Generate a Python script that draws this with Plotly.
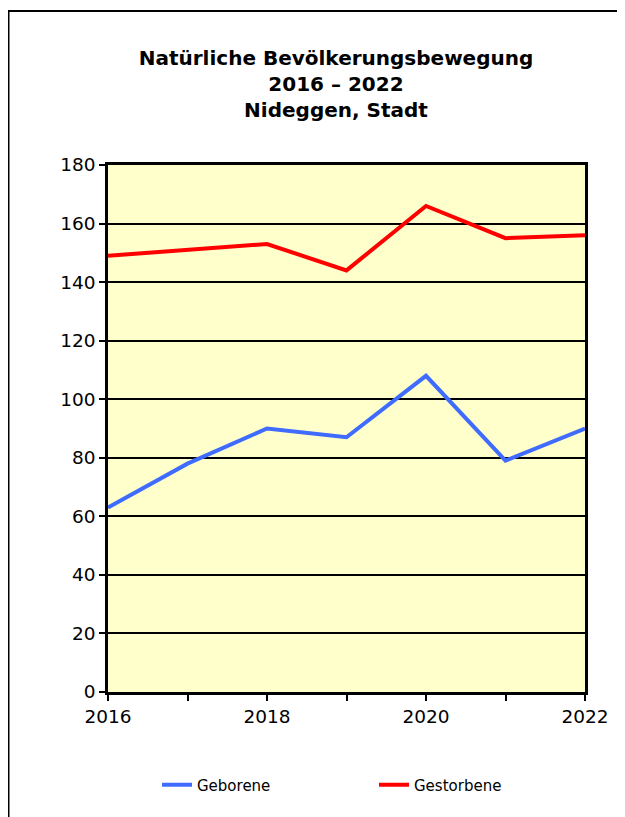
import plotly.graph_objects as go

years = [2016, 2017, 2018, 2019, 2020, 2021, 2022]
geborene = [63, 78, 90, 87, 108, 79, 90]
gestorbene = [149, 151, 153, 144, 166, 155, 156]
x_tick_text = ["2016", "", "2018", "", "2020", "", "2022"]
y_ticks = [0, 20, 40, 60, 80, 100, 120, 140, 160, 180]

W, H = 617, 809
L, R, T, B = 100, 40, 157, 125
PW, PH = W - L - R, H - T - B

FONT = "DejaVu Sans, Arial, sans-serif"

fig = go.Figure()
fig.add_trace(go.Scatter(x=years, y=geborene, mode="lines", name="Geborene",
                         line=dict(color="#3F6BFF", width=4)))
fig.add_trace(go.Scatter(x=years, y=gestorbene, mode="lines", name="Gestorbene",
                         line=dict(color="#FF0000", width=4)))

fig.update_layout(
    width=W, height=H,
    margin=dict(l=L, r=R, t=T, b=B),
    paper_bgcolor="white",
    plot_bgcolor="#FFFFCC",
    font=dict(family=FONT, color="black"),
    title=dict(
        text="<b>Natürliche Bevölkerungsbewegung<br>2016 – 2022<br>Nideggen, Stadt</b>",
        x=328 / W, xanchor="center", y=1 - 57 / H, yanchor="top",
        font=dict(size=20, family=FONT),
    ),
    showlegend=True,
    legend=dict(orientation="h", x=(149 - L) / PW, xanchor="left",
                y=(PH - (777 - T)) / PH, yanchor="middle",
                font=dict(size=15, family=FONT), entrywidth=172, entrywidthmode="pixels",
                bgcolor="rgba(0,0,0,0)"),
)
fig.update_xaxes(range=[2016, 2022], tickvals=years, ticktext=x_tick_text,
                 showgrid=False, showline=True, linecolor="black", linewidth=2.5,
                 mirror=True, ticks="outside", ticklen=6, tickwidth=2, tickcolor="black",
                 tickfont=dict(size=18.5, family=FONT), zeroline=False)
fig.update_yaxes(range=[0, 180], tickvals=y_ticks,
                 showgrid=True, gridcolor="black", gridwidth=2,
                 showline=True, linecolor="black", linewidth=2.5, mirror=True,
                 ticks="outside", ticklen=6, tickwidth=2, tickcolor="black",
                 tickfont=dict(size=18.5, family=FONT), zeroline=False)

fig.add_shape(type="rect", xref="paper", yref="paper",
              x0=(0.5 - L) / PW, x1=(615 - L) / PW, y0=-0.3, y1=(PH + T - 3) / PH,
              line=dict(color="black", width=2), fillcolor="rgba(0,0,0,0)", layer="above")

fig.write_html("out.html")
